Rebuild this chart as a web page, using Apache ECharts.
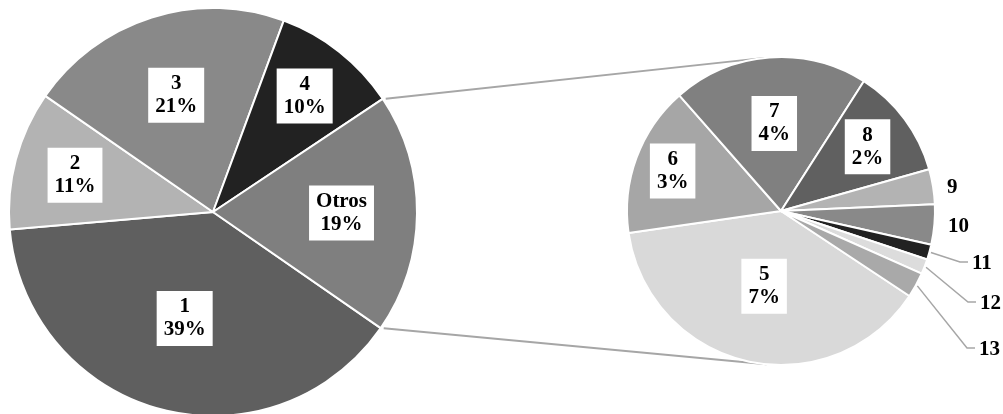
<!DOCTYPE html>
<html>
<head>
<meta charset="utf-8">
<script src="https://cdn.jsdelivr.net/npm/echarts@6/dist/echarts.min.js"></script>
<style>
  html, body { margin: 0; padding: 0; background: #ffffff; }
  #chart { width: 1003px; height: 414px; }
</style>
</head>
<body>
<div id="chart"></div>
<script>
// Main breakdown, in percent of the total. "Otros" is the sum of the detail slices.
const mainCategories = ['1', '2', '3', '4'];
const mainValues = [39, 11, 21, 10];
const otherName = 'Otros';

// Breakdown of "Otros", in percent of the total.
const detailCategories = ['5', '6', '7', '8', '9', '10', '11', '12', '13'];
const detailValues = [7.3, 3.0, 3.9, 2.2, 0.7, 0.8, 0.3, 0.3, 0.5];

// ---- styling / layout ----
const mainColors = ['#5f5f5f', '#b3b3b3', '#898989', '#222222', '#7f7f7f'];
const detailColors = ['#d9d9d9', '#a6a6a6', '#808080', '#606060', '#b3b3b3',
                      '#898989', '#222222', '#dcdcdc', '#a9a9a9'];

const BIG = { cx: 213, cy: 212, r: 204, start: 325.3 };
const SMALL = { cx: 781, cy: 211, r: 154, start: 326.5 };

// radial position of boxed labels, as a share of the radius
const bigLabelRadius = [0.54, 0.70, 0.60, 0.725, 0.63];
const smallLabelRadius = [0.50, 0.75, 0.57, 0.70];
// labels of the thinnest detail slices sit outside, to the right
const outerLabelSpots = [
  { x: 947, y: 188, line: false },
  { x: 948, y: 227, line: false },
  { x: 972, y: 264, line: true },
  { x: 980, y: 304, line: true },
  { x: 979, y: 350, line: true }
];

const LINE_GREY = '#a6a6a6';
const FONT = 'Liberation Serif, Times New Roman, serif';

const sum = a => a.reduce((s, v) => s + v, 0);
const otherTotal = sum(detailValues);
const bigNames = mainCategories.concat([otherName]);
const bigValues = mainValues.concat([otherTotal]);
const grandTotal = sum(bigValues);

// clockwise angle from 12 o'clock, in degrees, of a point along a pie
function cwAngle(pie, values, upTo) {
  return (90 - pie.start) + sum(values.slice(0, upTo)) / sum(values) * 360;
}
function polarPoint(pie, deg, frac) {
  const rad = deg * Math.PI / 180;
  return [pie.cx + frac * pie.r * Math.sin(rad), pie.cy - frac * pie.r * Math.cos(rad)];
}
function midPoint(pie, values, i, frac) {
  const deg = (cwAngle(pie, values, i) + cwAngle(pie, values, i + 1)) / 2;
  return polarPoint(pie, deg, frac);
}
function pct(v) { return Math.round(v / grandTotal * 100) + '%'; }

// tangent point on the detail pie seen from a point p (side -1: upper, +1: lower)
function tangentPoint(p, pie, side) {
  const dx = pie.cx - p[0], dy = pie.cy - p[1];
  const d = Math.sqrt(dx * dx + dy * dy);
  const a = Math.atan2(dy, dx) + side * Math.asin(pie.r / d);
  const L = Math.sqrt(d * d - pie.r * pie.r);
  return [p[0] + L * Math.cos(a), p[1] + L * Math.sin(a)];
}

const isOuter = detailValues.map(v => v < 1);
const outerIndex = [];
let k = 0;
isOuter.forEach((o, i) => { outerIndex[i] = o ? k++ : -1; });

const boxLabel = {
  show: true,
  position: 'inside',
  color: '#000000',
  fontFamily: FONT,
  fontWeight: 'bold',
  fontSize: 21,
  lineHeight: 23,
  backgroundColor: '#ffffff',
  padding: [5, 7, 4, 7],
  align: 'center'
};

const bigData = bigNames.map((n, i) => ({
  name: n, value: bigValues[i], itemStyle: { color: mainColors[i] }
}));

const detailData = detailCategories.map((n, i) => {
  const item = { name: n, value: detailValues[i], itemStyle: { color: detailColors[i] } };
  if (isOuter[i]) {
    const spot = outerLabelSpots[outerIndex[i]];
    item.label = { position: 'outside', backgroundColor: 'transparent', padding: 0 };
    item.labelLine = { show: spot.line, lineStyle: { color: LINE_GREY, width: 1.5 } };
  }
  return item;
});

// connector lines from the edges of "Otros" to the detail pie
const otrosStart = polarPoint(BIG, cwAngle(BIG, bigValues, bigValues.length - 1), 1.0);
const otrosEnd = polarPoint(BIG, cwAngle(BIG, bigValues, bigValues.length), 1.0);
const topEnd = tangentPoint(otrosStart, SMALL, -1);
const botEnd = tangentPoint(otrosEnd, SMALL, 1);

const chart = echarts.init(document.getElementById('chart'), null, { renderer: 'canvas' });
chart.setOption({
  animation: false,
  backgroundColor: '#ffffff',
  graphic: [
    { type: 'line', z: 0, shape: { x1: otrosStart[0] + 3, y1: otrosStart[1], x2: topEnd[0], y2: topEnd[1] },
      style: { stroke: LINE_GREY, lineWidth: 2 } },
    { type: 'line', z: 0, shape: { x1: otrosEnd[0] + 3, y1: otrosEnd[1], x2: botEnd[0], y2: botEnd[1] },
      style: { stroke: LINE_GREY, lineWidth: 2 } }
  ],
  series: [
    {
      type: 'pie',
      center: [BIG.cx, BIG.cy],
      radius: BIG.r,
      startAngle: BIG.start,
      clockwise: true,
      avoidLabelOverlap: false,
      itemStyle: { borderColor: '#ffffff', borderWidth: 2 },
      label: Object.assign({}, boxLabel, {
        formatter: p => p.name + '\n' + pct(p.value)
      }),
      labelLine: { show: false },
      labelLayout: p => {
        const pt = midPoint(BIG, bigValues, p.dataIndex, bigLabelRadius[p.dataIndex]);
        return { x: pt[0], y: pt[1], align: 'center', verticalAlign: 'middle' };
      },
      emphasis: { disabled: true },
      data: bigData
    },
    {
      type: 'pie',
      center: [SMALL.cx, SMALL.cy],
      radius: SMALL.r,
      startAngle: SMALL.start,
      clockwise: true,
      avoidLabelOverlap: false,
      itemStyle: { borderColor: '#ffffff', borderWidth: 2 },
      label: Object.assign({}, boxLabel, {
        formatter: p => isOuter[p.dataIndex] ? p.name : p.name + '\n' + pct(p.value)
      }),
      labelLine: { show: false },
      labelLayout: p => {
        const i = p.dataIndex;
        if (!isOuter[i]) {
          const pt = midPoint(SMALL, detailValues, i, smallLabelRadius[i]);
          return { x: pt[0], y: pt[1], align: 'center', verticalAlign: 'middle' };
        }
        const s = outerLabelSpots[outerIndex[i]];
        const res = { x: s.x, y: s.y, align: 'left', verticalAlign: 'middle' };
        if (s.line) {
          const a = midPoint(SMALL, detailValues, i, 1.01);
          res.labelLinePoints = [a, [s.x - 12, s.y - 2], [s.x - 4, s.y - 2]];
        }
        return res;
      },
      emphasis: { disabled: true },
      data: detailData
    }
  ]
});
</script>
</body>
</html>
